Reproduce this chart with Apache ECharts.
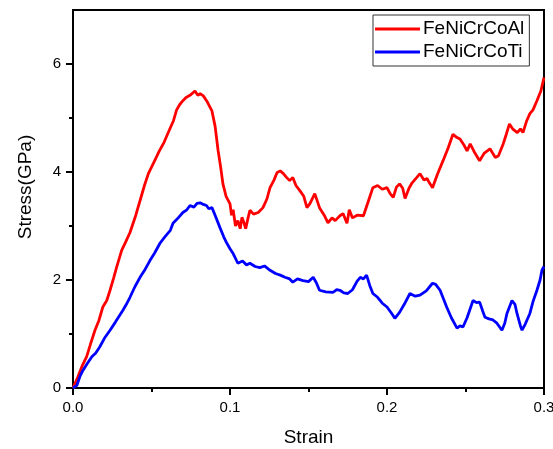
<!DOCTYPE html>
<html>
<head>
<meta charset="utf-8">
<script src="https://cdn.jsdelivr.net/npm/echarts@6/dist/echarts.min.js"></script>
<style>
  html, body { margin: 0; padding: 0; background: #fff; }
  #chart { width: 553px; height: 449px; }
</style>
</head>
<body>
<div id="chart"></div>
<script>
// FeNiCrCoAl (red)
const strainAl = [0, 0.003, 0.006, 0.0087, 0.011, 0.014, 0.0165, 0.019, 0.0215, 0.0236, 0.026, 0.0278, 0.031, 0.0335, 0.0363, 0.04, 0.043, 0.0455, 0.048, 0.0515,
  0.055, 0.058, 0.062, 0.064, 0.066, 0.068, 0.070, 0.072, 0.0745, 0.0777, 0.0795, 0.081, 0.083, 0.0855, 0.0885, 0.0905, 0.0924, 0.094, 0.0955, 0.0975,
  0.1, 0.101, 0.102, 0.1035, 0.105, 0.1065, 0.1076, 0.109, 0.11, 0.1115, 0.1127, 0.115, 0.118, 0.121, 0.1235, 0.1255, 0.128, 0.13, 0.132, 0.134,
  0.136, 0.138, 0.14, 0.142, 0.1446, 0.147, 0.149, 0.151, 0.154, 0.157, 0.16, 0.1624, 0.165, 0.167, 0.17, 0.172, 0.1745, 0.176, 0.178, 0.181,
  0.185, 0.188, 0.191, 0.194, 0.197, 0.2, 0.202, 0.204, 0.206, 0.208, 0.21, 0.2115, 0.214, 0.216, 0.219, 0.221, 0.2235, 0.2255, 0.227, 0.229,
  0.232, 0.2357, 0.239, 0.242, 0.244, 0.2465, 0.249, 0.251, 0.253, 0.256, 0.259, 0.262, 0.2656, 0.269, 0.271, 0.274, 0.276, 0.278, 0.28, 0.283,
  0.285, 0.2866, 0.289, 0.291, 0.293, 0.2955, 0.298, 0.3]
const stressAl = [0, 0.2, 0.42, 0.58, 0.8, 1.07, 1.25, 1.5, 1.62, 1.81, 2.05, 2.24, 2.55, 2.7, 2.88, 3.2, 3.5, 3.75, 3.97, 4.18,
  4.39, 4.55, 4.82, 4.95, 5.15, 5.25, 5.32, 5.38, 5.42, 5.5, 5.42, 5.45, 5.41, 5.3, 5.13, 4.85, 4.4, 4.1, 3.78, 3.55,
  3.41, 3.2, 3.3, 3.0, 3.1, 2.95, 3.16, 3.05, 2.95, 3.15, 3.29, 3.22, 3.25, 3.34, 3.5, 3.71, 3.85, 3.99, 4.02, 3.97,
  3.9, 3.84, 3.9, 3.75, 3.65, 3.55, 3.34, 3.42, 3.6, 3.34, 3.2, 3.06, 3.15, 3.1, 3.19, 3.23, 3.05, 3.3, 3.15, 3.2,
  3.19, 3.45, 3.71, 3.75, 3.68, 3.71, 3.6, 3.53, 3.72, 3.78, 3.7, 3.51, 3.7, 3.8, 3.9, 3.97, 3.85, 3.88, 3.8, 3.71,
  3.95, 4.21, 4.45, 4.7, 4.65, 4.61, 4.5, 4.39, 4.52, 4.35, 4.21, 4.35, 4.43, 4.27, 4.3, 4.52, 4.7, 4.89, 4.8, 4.73,
  4.8, 4.73, 4.95, 5.08, 5.15, 5.32, 5.5, 5.75]

// FeNiCrCoTi (blue)
const strainTi = [0, 0.0025, 0.0045, 0.0064, 0.009, 0.012, 0.0145, 0.017, 0.02, 0.0236, 0.027, 0.0318, 0.034, 0.0363, 0.0395, 0.0427, 0.046, 0.049, 0.052, 0.0554,
  0.0585, 0.062, 0.0637, 0.067, 0.07, 0.0725, 0.0745, 0.077, 0.079, 0.081, 0.083, 0.085, 0.0865, 0.0885, 0.0905, 0.0936, 0.096, 0.098, 0.1, 0.102,
  0.105, 0.108, 0.1105, 0.1127, 0.116, 0.119, 0.122, 0.1255, 0.129, 0.132, 0.135, 0.138, 0.14, 0.143, 0.1465, 0.15, 0.153, 0.155, 0.157, 0.161,
  0.1656, 0.168, 0.17, 0.1725, 0.175, 0.178, 0.181, 0.183, 0.185, 0.187, 0.189, 0.191, 0.194, 0.197, 0.2, 0.203, 0.205, 0.208, 0.211, 0.2146,
  0.218, 0.221, 0.225, 0.229, 0.231, 0.2338, 0.236, 0.238, 0.241, 0.2446, 0.2465, 0.2484, 0.251, 0.2548, 0.257, 0.259, 0.261, 0.2624, 0.265, 0.2675,
  0.27, 0.2732, 0.275, 0.2764, 0.2796, 0.2815, 0.2828, 0.285, 0.286, 0.288, 0.291, 0.293, 0.2955, 0.2975, 0.2987, 0.3]
const stressTi = [0, 0.05, 0.22, 0.33, 0.45, 0.58, 0.65, 0.76, 0.92, 1.07, 1.22, 1.44, 1.55, 1.68, 1.88, 2.05, 2.2, 2.36, 2.5, 2.68,
  2.8, 2.92, 3.05, 3.15, 3.25, 3.3, 3.38, 3.35, 3.42, 3.43, 3.4, 3.38, 3.32, 3.34, 3.2, 2.97, 2.8, 2.68, 2.58, 2.49,
  2.31, 2.35, 2.28, 2.31, 2.25, 2.23, 2.26, 2.18, 2.12, 2.09, 2.05, 2.02, 1.96, 2.02, 1.99, 1.97, 2.05, 1.95, 1.81, 1.78,
  1.77, 1.82, 1.81, 1.76, 1.75, 1.82, 1.98, 2.05, 2.02, 2.09, 1.9, 1.75, 1.68, 1.57, 1.5, 1.38, 1.29, 1.4, 1.55, 1.75,
  1.7, 1.72, 1.8, 1.94, 1.92, 1.81, 1.65, 1.5, 1.3, 1.11, 1.15, 1.13, 1.3, 1.62, 1.58, 1.59, 1.42, 1.31, 1.28, 1.26,
  1.2, 1.07, 1.2, 1.38, 1.62, 1.55, 1.38, 1.15, 1.07, 1.18, 1.38, 1.6, 1.81, 2.0, 2.18, 2.25]

const yMajor = [0, 2, 4, 6]
const yMinor = [1, 3, 5]

const font = 'Arial, "Liberation Sans", sans-serif'
const pairs = (xs, ys) => xs.map((x, i) => [x, ys[i]])

const chart = echarts.init(document.getElementById('chart'), null, { renderer: 'canvas' })

chart.setOption({
  backgroundColor: '#fff',
  animation: false,
  grid: {
    left: 73, right: 9, top: 10, bottom: 61,
    show: true, borderColor: '#000', borderWidth: 2,
    containLabel: false, outerBoundsMode: 'none'
  },
  legend: {
    left: 373, top: 15,
    orient: 'vertical',
    padding: [4, 5, 4, 2],
    itemGap: 3,
    icon: 'rect',
    itemWidth: 45, itemHeight: 3,
    borderColor: '#333', borderWidth: 1,
    textStyle: { fontFamily: font, fontSize: 19, lineHeight: 20, color: '#000', padding: [0, 0, 0, -2] },
    data: ['FeNiCrCoAl', 'FeNiCrCoTi']
  },
  xAxis: {
    type: 'value', min: 0, max: 0.3, interval: 0.1,
    name: 'Strain', nameLocation: 'middle', nameGap: 40,
    nameTextStyle: { fontFamily: font, fontSize: 19, color: '#000' },
    axisLine: { show: true, lineStyle: { color: '#000', width: 2 } },
    axisTick: { show: true, inside: false, length: 7, lineStyle: { color: '#000', width: 2 } },
    minorTick: { show: true, splitNumber: 2, length: 4, lineStyle: { color: '#000', width: 2 } },
    axisLabel: { margin: 12, fontFamily: font, fontSize: 15, color: '#000', formatter: v => v.toFixed(1) },
    splitLine: { show: false }
  },
  yAxis: [{
    type: 'value', min: 0, max: 7,
    name: 'Stress(GPa)', nameLocation: 'middle', nameGap: 38, nameRotate: 90,
    nameTextStyle: { fontFamily: font, fontSize: 19, color: '#000', padding: [0, 0, 0, 24] },
    axisLine: { show: true, lineStyle: { color: '#000', width: 2 } },
    axisTick: { show: true, length: 7, customValues: yMajor, lineStyle: { color: '#000', width: 2 } },
    axisLabel: { margin: 12, fontFamily: font, fontSize: 15, color: '#000', customValues: yMajor },
    splitLine: { show: false }
  }, {
    type: 'value', min: 0, max: 7, position: 'left',
    axisLine: { show: false },
    axisTick: { show: true, length: 4, customValues: yMinor, lineStyle: { color: '#000', width: 2 } },
    axisLabel: { show: false },
    splitLine: { show: false }
  }],
  series: [{
    name: 'FeNiCrCoAl', type: 'line', symbol: 'none',
    lineStyle: { color: '#ff0000', width: 2.8 }, itemStyle: { color: '#ff0000' },
    data: pairs(strainAl, stressAl)
  }, {
    name: 'FeNiCrCoTi', type: 'line', symbol: 'none',
    lineStyle: { color: '#0000ff', width: 2.8 }, itemStyle: { color: '#0000ff' },
    data: pairs(strainTi, stressTi)
  }]
})
</script>
</body>
</html>
